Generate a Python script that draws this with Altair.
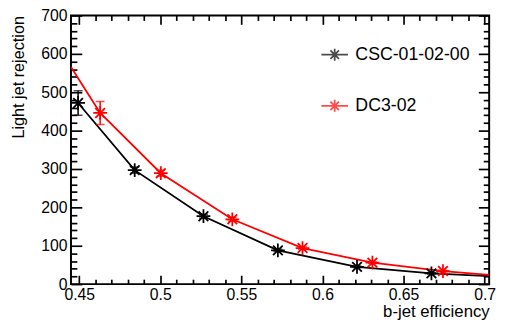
import altair as alt
import pandas as pd

# ---- data ----
series_names = ["CSC-01-02-00", "DC3-02"]
series_colors = ["black", "red"]

csc_x = [0.4493, 0.4842, 0.5266, 0.5725, 0.6213, 0.6672]
csc_y = [472, 297, 177, 88, 45, 28]
csc_err = [32, 8, 5, 3, 2, 2]

dc3_x = [0.4629, 0.5003, 0.5444, 0.5877, 0.6308, 0.6743]
dc3_y = [446, 289, 169, 94, 56, 34]
dc3_err = [30, 8, 5, 3, 2, 2]

csc_curve_x = [0.4493, 0.4842, 0.5266, 0.5725, 0.6213, 0.6672, 0.7028]
csc_curve_y = [472, 297, 177, 88, 45, 28, 21]
dc3_curve_x = [0.4449, 0.4629, 0.5003, 0.5444, 0.5877, 0.6308, 0.6743, 0.7028]
dc3_curve_y = [566, 446, 289, 169, 94, 56, 34, 24]

x_domain = [0.4449, 0.7028]
y_domain = [0, 700]
x_major = [0.45, 0.5, 0.55, 0.6, 0.65, 0.7]
x_minor = [0.46, 0.47, 0.48, 0.49, 0.51, 0.52, 0.53, 0.54, 0.56, 0.57, 0.58,
           0.59, 0.61, 0.62, 0.63, 0.64, 0.66, 0.67, 0.68, 0.69]
y_major = [0, 100, 200, 300, 400, 500, 600, 700]
y_minor = [20, 40, 60, 80, 120, 140, 160, 180, 220, 240, 260, 280, 320, 340,
           360, 380, 420, 440, 460, 480, 520, 540, 560, 580, 620, 640, 660, 680]

# ---- tables ----
pts = pd.concat([
    pd.DataFrame({"x": csc_x, "y": csc_y, "err": csc_err, "series": series_names[0]}),
    pd.DataFrame({"x": dc3_x, "y": dc3_y, "err": dc3_err, "series": series_names[1]}),
], ignore_index=True)
pts["lo"] = pts["y"] - pts["err"]
pts["hi"] = pts["y"] + pts["err"]

curves = pd.concat([
    pd.DataFrame({"x": csc_curve_x, "y": csc_curve_y, "series": series_names[0]}),
    pd.DataFrame({"x": dc3_curve_x, "y": dc3_curve_y, "series": series_names[1]}),
], ignore_index=True)

W, H = 425, 273
FONT = "Liberation Sans"
ASTERISK = "M-1,0L1,0M0,-1L0,1M-0.7,-0.7L0.7,0.7M-0.7,0.7L0.7,-0.7"
LEG_SYMBOL = ("M-1,0L1,0M0,-0.45L0,0.45M-0.32,-0.32L0.32,0.32"
              "M-0.32,0.32L0.32,-0.32")

xs = alt.Scale(domain=x_domain, nice=False, zero=False)
ys = alt.Scale(domain=y_domain, nice=False, zero=False)
cscale = alt.Scale(domain=series_names, range=series_colors)


def tick_axis(orient, offset, values, size):
    return alt.Axis(orient=orient, offset=offset, values=values, labels=False,
                    domain=False, grid=False, title=None, ticks=True,
                    tickColor="black", tickWidth=1.7, tickSize=size)


x_label_axis = alt.Axis(orient="bottom", values=x_major, ticks=False, tickSize=0, domain=False,
                        grid=False, labelFont=FONT, labelFontSize=16, labelColor="black",
                        labelPadding=3, labelFlush=False, labelOverlap=False,
                        title="b-jet efficiency", titleFont=FONT, titleFontSize=17,
                        titleFontWeight="normal", titleColor="black",
                        titleAlign="right", titleAnchor="end", titleX=425, titleY=33,
                        titleBaseline="alphabetic", format=".2~f")
y_label_axis = alt.Axis(orient="left", values=y_major, ticks=False, tickSize=0, domain=False,
                        grid=False, labelFont=FONT, labelFontSize=16, labelColor="black",
                        labelPadding=4, labelFlush=False, labelOverlap=False,
                        title="Light jet rejection", titleFont=FONT, titleFontSize=16.5,
                        titleFontWeight="normal", titleColor="black", titleAngle=-90,
                        titleAlign="right", titleAnchor="end", titleX=-48, titleY=0,
                        titleBaseline="alphabetic")

legend = alt.Legend(title=None, orient="none", legendX=253.5, legendY=25.3,
                    direction="vertical", symbolType=LEG_SYMBOL, symbolSize=729,
                    symbolStrokeWidth=1.8, symbolFillColor="transparent",
                    labelFont=FONT, labelFontSize=18, labelColor="black",
                    labelOffset=6.5, rowPadding=27, padding=0)

color = alt.Color("series:N", scale=cscale, legend=legend)

lines = alt.Chart(curves).mark_line(strokeWidth=1.8, clip=True).encode(
    x=alt.X("x:Q", scale=xs, axis=x_label_axis),
    y=alt.Y("y:Q", scale=ys, axis=y_label_axis),
    color=color,
    detail="series:N",
)

# error bars; their axes draw the inward major ticks on bottom and left edges
bars = alt.Chart(pts).mark_rule(strokeWidth=1.5).encode(
    x=alt.X("x:Q", scale=xs, axis=tick_axis("top", -H, x_major, 9)),
    y=alt.Y("lo:Q", scale=ys, axis=tick_axis("right", -W, y_major, 11)),
    y2="hi:Q",
    color=color,
)

# lower caps; inward minor ticks on bottom and left edges
caps_lo = alt.Chart(pts).mark_tick(orient="horizontal", size=9, thickness=1.5).encode(
    x=alt.X("x:Q", scale=xs, axis=tick_axis("top", -H, x_minor, 5)),
    y=alt.Y("lo:Q", scale=ys, axis=tick_axis("right", -W, y_minor, 6)),
    color=color,
)

# upper caps; inward major ticks on top and right edges
caps_hi = alt.Chart(pts).mark_tick(orient="horizontal", size=9, thickness=1.5).encode(
    x=alt.X("x:Q", scale=xs, axis=tick_axis("bottom", -H, x_major, 9)),
    y=alt.Y("hi:Q", scale=ys, axis=tick_axis("left", -W, y_major, 11)),
    color=color,
)

# asterisk markers; inward minor ticks on top and right edges
points = alt.Chart(pts).mark_point(shape=ASTERISK, size=196, filled=False,
                                   strokeWidth=1.8, opacity=1).encode(
    x=alt.X("x:Q", scale=xs, axis=tick_axis("bottom", -H, x_minor, 5)),
    y=alt.Y("y:Q", scale=ys, axis=tick_axis("left", -W, y_minor, 6)),
    color=color,
)

chart = alt.layer(lines, bars, caps_lo, caps_hi, points).resolve_axis(
    x="independent", y="independent"
).properties(
    width=W, height=H,
    background="white",
    autosize=alt.AutoSizeParams(type="none"),
    padding={"left": 64, "top": 5, "right": 10, "bottom": 43},
).configure_view(
    stroke="black", strokeWidth=2
)

chart.save("out.html", embed_options={"renderer": "svg", "actions": False})
